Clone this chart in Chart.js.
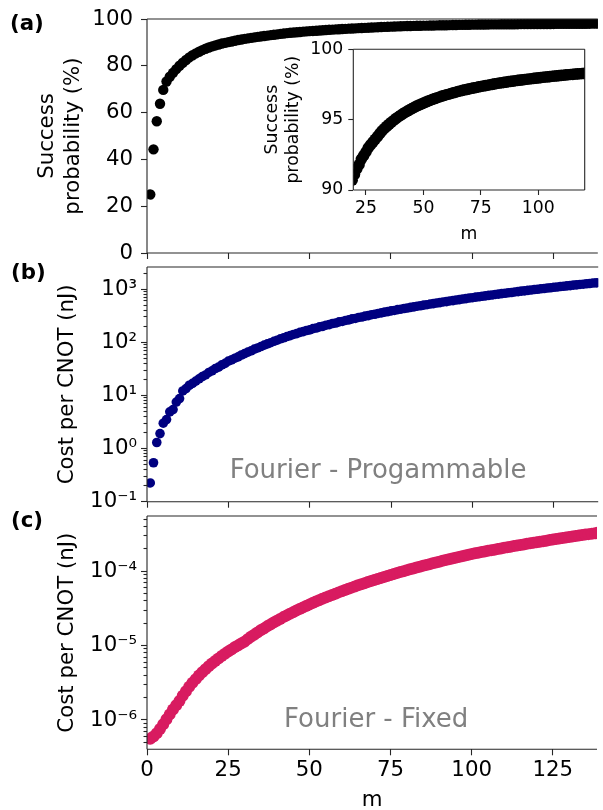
<!DOCTYPE html>
<html>
<head>
<meta charset="utf-8">
<script src="https://cdn.jsdelivr.net/npm/chart.js@4.4.0/dist/chart.umd.min.js"></script>
<style>
  html, body { margin: 0; padding: 0; background: #fff; overflow: hidden; }
  #wrap { position: relative; width: 603px; height: 810px; }
  canvas { position: absolute; left: 0; }
</style>
</head>
<body>
<div id="wrap">
  <canvas id="cA" width="603" height="262" style="top:0px"></canvas>
  <canvas id="cB" width="603" height="250" style="top:260px"></canvas>
  <canvas id="cC" width="603" height="305" style="top:505px"></canvas>
  <canvas id="cIn" width="345" height="210" style="left:250px;top:40px"></canvas>
</div>
<script>
const FONT = 'DejaVu Sans';
const INK = '#000';
const SPINE = '#262626';

// m = 1..140 (one point per m)
const mValues = Array.from({length: 140}, (_, i) => i + 1);
const mTicks = [0, 25, 50, 75, 100, 125];
const insetMTicks = [25, 50, 75, 100];
const successTicks = [0, 20, 40, 60, 80, 100];
const insetSuccessTicks = [90, 95, 100];
const progDecades = [0.1, 1, 10, 100, 1000];
const fixedDecades = [1e-6, 1e-5, 1e-4];

// (a) success probability (%)
const successProb = [
  25.0, 44.3, 56.3, 63.8, 69.7, 73.3, 75.3, 77.0, 78.6, 80.0,
  81.3, 82.5, 83.6, 84.5, 85.3, 86.0, 86.7, 87.3, 87.8, 88.3,
  88.7, 89.1, 89.5, 89.8, 90.1, 90.4, 90.7, 91.0, 91.25, 91.5,
  91.7, 91.95, 92.15, 92.35, 92.55, 92.75, 92.9, 93.1, 93.25, 93.45,
  93.65, 93.8, 93.95, 94.1, 94.2, 94.35, 94.45, 94.6, 94.7, 94.8,
  94.9, 95.0, 95.1, 95.2, 95.3, 95.4, 95.48, 95.56, 95.64, 95.72,
  95.8, 95.87, 95.94, 96.01, 96.08, 96.15, 96.22, 96.29, 96.36, 96.43,
  96.5, 96.56, 96.62, 96.68, 96.74, 96.8, 96.85, 96.9, 96.95, 97.0,
  97.03, 97.06, 97.09, 97.12, 97.15, 97.18, 97.21, 97.24, 97.27, 97.3,
  97.32, 97.35, 97.38, 97.41, 97.44, 97.47, 97.5, 97.53, 97.56, 97.58,
  97.6, 97.62, 97.64, 97.66, 97.68, 97.7, 97.71, 97.72, 97.73, 97.74,
  97.75, 97.76, 97.77, 97.78, 97.79, 97.8, 97.81, 97.82, 97.83, 97.84,
  97.85, 97.86, 97.87, 97.88, 97.89, 97.9, 97.91, 97.92, 97.93, 97.94,
  97.95, 97.96, 97.97, 97.98, 97.99, 98.0, 98.01, 98.02, 98.03, 98.04
];

// (a) inset: success probability (%)
const successProbInset = [
  25.0, 44.3, 56.3, 63.8, 69.7, 73.5, 77.0, 79.5, 81.6, 83.2,
  84.6, 85.7, 86.8, 87.6, 88.4, 89.1, 89.7, 90.2, 90.7, 91.1,
  91.5, 91.8, 92.2, 92.45, 92.7, 93.0, 93.2, 93.4, 93.6, 93.8,
  94.0, 94.2, 94.37, 94.52, 94.67, 94.81, 94.94, 95.07, 95.19, 95.3,
  95.41, 95.51, 95.61, 95.7, 95.79, 95.87, 95.96, 96.03, 96.11, 96.18,
  96.25, 96.32, 96.38, 96.44, 96.5, 96.56, 96.61, 96.67, 96.72, 96.77,
  96.81, 96.86, 96.91, 96.95, 97.0, 97.04, 97.08, 97.12, 97.15, 97.19,
  97.23, 97.26, 97.29, 97.33, 97.36, 97.39, 97.42, 97.45, 97.48, 97.51,
  97.54, 97.57, 97.6, 97.62, 97.65, 97.67, 97.7, 97.72, 97.74, 97.77,
  97.79, 97.81, 97.83, 97.85, 97.87, 97.89, 97.91, 97.93, 97.95, 97.97,
  97.99, 98.01, 98.03, 98.04, 98.06, 98.08, 98.1, 98.11, 98.13, 98.15,
  98.16, 98.18, 98.19, 98.21, 98.22, 98.24, 98.25, 98.26, 98.28, 98.29,
  98.3, 98.32, 98.33, 98.34, 98.36, 98.37, 98.38, 98.39, 98.4, 98.42,
  98.43, 98.44, 98.45, 98.46, 98.47, 98.48, 98.49, 98.5, 98.51, 98.52
];

// (b) cost per CNOT (nJ), programmable
const costProgrammable = [
  0.225, 0.54, 1.30, 1.91, 3.0, 3.5, 4.9, 5.4, 7.5, 8.7,
  12.1, 13.4, 15.5, 16.8, 18.6, 20.5, 22.5, 24.2, 27, 29,
  32, 34, 37.5, 40, 44, 46.5, 50, 53, 57.5, 61,
  65, 69, 74, 78, 83, 88, 93, 98, 104, 109,
  116, 121, 128, 133, 140, 145, 153, 158, 166, 171,
  180, 185, 194, 199, 209, 214, 225, 230, 241, 246,
  257, 263, 275, 280, 292, 298, 310, 316, 329, 336,
  348, 356, 368, 376, 389, 396, 410, 418, 431, 440,
  453, 462, 476, 485, 499, 508, 523, 532, 547, 556,
  572, 581, 597, 607, 623, 633, 650, 660, 677, 688,
  705, 715, 733, 744, 762, 772, 791, 802, 821, 832,
  851, 862, 882, 894, 914, 926, 946, 958, 979, 991,
  1012, 1024, 1046, 1058, 1080, 1092, 1115, 1127, 1150, 1162,
  1186, 1198, 1222, 1234, 1259, 1271, 1296, 1308, 1334, 1346
];

// (c) cost per CNOT (nJ), fixed
const costFixed = [
  5.6e-7, 6.0e-7, 6.65e-7, 7.55e-7, 8.75e-7, 1.02e-6, 1.19e-6, 1.38e-6, 1.58e-6, 1.80e-6,
  2.11e-6, 2.44e-6, 2.79e-6, 3.16e-6, 3.54e-6, 3.95e-6, 4.37e-6, 4.80e-6, 5.26e-6, 5.73e-6,
  6.21e-6, 6.72e-6, 7.23e-6, 7.77e-6, 8.32e-6, 8.88e-6, 9.46e-6, 1.005e-5, 1.065e-5, 1.127e-5,
  1.22e-5, 1.31e-5, 1.40e-5, 1.50e-5, 1.60e-5, 1.70e-5, 1.81e-5, 1.92e-5, 2.04e-5, 2.16e-5,
  2.28e-5, 2.41e-5, 2.54e-5, 2.68e-5, 2.81e-5, 2.96e-5, 3.10e-5, 3.25e-5, 3.41e-5, 3.57e-5,
  3.73e-5, 3.90e-5, 4.07e-5, 4.24e-5, 4.42e-5, 4.60e-5, 4.79e-5, 4.98e-5, 5.18e-5, 5.38e-5,
  5.58e-5, 5.79e-5, 6.00e-5, 6.22e-5, 6.44e-5, 6.66e-5, 6.89e-5, 7.13e-5, 7.36e-5, 7.61e-5,
  7.85e-5, 8.10e-5, 8.36e-5, 8.62e-5, 8.88e-5, 9.15e-5, 9.42e-5, 9.70e-5, 9.98e-5, 1.027e-4,
  1.056e-4, 1.086e-4, 1.116e-4, 1.146e-4, 1.177e-4, 1.208e-4, 1.240e-4, 1.273e-4, 1.305e-4, 1.339e-4,
  1.373e-4, 1.407e-4, 1.441e-4, 1.476e-4, 1.512e-4, 1.548e-4, 1.584e-4, 1.621e-4, 1.659e-4, 1.697e-4,
  1.731e-4, 1.766e-4, 1.800e-4, 1.835e-4, 1.871e-4, 1.907e-4, 1.943e-4, 1.979e-4, 2.016e-4, 2.053e-4,
  2.091e-4, 2.129e-4, 2.167e-4, 2.205e-4, 2.244e-4, 2.283e-4, 2.323e-4, 2.363e-4, 2.403e-4, 2.444e-4,
  2.485e-4, 2.526e-4, 2.567e-4, 2.609e-4, 2.652e-4, 2.694e-4, 2.737e-4, 2.780e-4, 2.824e-4, 2.868e-4,
  2.912e-4, 2.957e-4, 3.002e-4, 3.047e-4, 3.093e-4, 3.139e-4, 3.185e-4, 3.232e-4, 3.279e-4, 3.326e-4
];

const SUP = {'-': '\u207B', '0': '\u2070', '1': '\u00B9', '2': '\u00B2', '3': '\u00B3',
  '4': '\u2074', '5': '\u2075', '6': '\u2076', '7': '\u2077', '8': '\u2078', '9': '\u2079'};
function powLabel(v){
  const e = Math.round(Math.log10(v));
  return '10' + String(e).split('').map(c => SUP[c]).join('');
}

function minorTicks(decades, min, max){
  const out = [];
  for (const d of [decades[0] / 10, ...decades]) {
    for (let k = 2; k <= 9; k++) { const v = k * d; if (v >= min && v <= max) out.push(v); }
  }
  return out;
}

function pts(ys){ return ys.map((y, i) => ({x: mValues[i], y})); }

// spines (and optional white face for the inset)
function makeFrame(sides, fill){
  return {
    id: 'frame',
    beforeDatasetsDraw(chart){
      if (!fill) return;
      const {ctx, chartArea: a} = chart;
      ctx.save(); ctx.fillStyle = fill;
      ctx.fillRect(a.left, a.top, a.right - a.left, a.bottom - a.top);
      ctx.restore();
    },
    afterDatasetsDraw(chart){
      const {ctx, chartArea: a} = chart;
      ctx.save(); ctx.strokeStyle = SPINE; ctx.lineWidth = 1.1; ctx.beginPath();
      if (sides.includes('top')) { ctx.moveTo(a.left, a.top); ctx.lineTo(a.right, a.top); }
      if (sides.includes('bottom')) { ctx.moveTo(a.left, a.bottom); ctx.lineTo(a.right, a.bottom); }
      if (sides.includes('left')) { ctx.moveTo(a.left, a.top); ctx.lineTo(a.left, a.bottom); }
      if (sides.includes('right')) { ctx.moveTo(a.right, a.top); ctx.lineTo(a.right, a.bottom); }
      ctx.stroke(); ctx.restore();
    }
  };
}

// free texts: panel letters (pixel) and annotations (data coords)
function makeNotes(items){
  return {
    id: 'notes',
    afterDraw(chart){
      const ctx = chart.ctx;
      items.forEach(t => {
        ctx.save();
        ctx.font = (t.bold ? 'bold ' : '') + t.size + 'px "' + FONT + '"';
        ctx.fillStyle = t.color || INK;
        ctx.textAlign = t.align || 'left';
        ctx.textBaseline = 'alphabetic';
        const x = t.px !== undefined ? t.px : chart.scales.x.getPixelForValue(t.x);
        const y = t.py !== undefined ? t.py : chart.scales.y.getPixelForValue(t.y);
        ctx.fillText(t.text, x, y);
        ctx.restore();
      });
    }
  };
}

function tickAxis(o){
  return {
    type: o.type || 'linear',
    position: o.position,
    min: o.min, max: o.max,
    weight: o.weight || 0,
    afterBuildTicks: s => { s.ticks = o.ticks.map(v => ({value: v})); },
    afterFit: s => {
      if (o.position === 'left') s.width = o.size; else s.height = o.size;
      s.paddingTop = 0; s.paddingBottom = 0; s.paddingLeft = 0; s.paddingRight = 0;
    },
    grid: {display: true, drawOnChartArea: false, drawTicks: true, tickLength: o.tickLength,
           tickColor: SPINE, tickWidth: 1.1, color: SPINE},
    border: {display: false},
    ticks: {display: !!o.label, autoSkip: false, maxRotation: 0, minRotation: 0, padding: o.pad || 0,
            color: INK, font: {family: FONT, size: o.fontSize || 21.3}, callback: o.label || (v => String(v))},
    title: o.title || {display: false}
  };
}

function makeChart(id, cfg){
  return new Chart(document.getElementById(id), {
    type: 'scatter',
    data: {datasets: [{data: cfg.points, backgroundColor: cfg.color, borderWidth: 0,
      pointRadius: cfg.r, pointHoverRadius: cfg.r, pointBorderWidth: 0, clip: 0}]},
    options: {
      responsive: false, animation: false, devicePixelRatio: 1, events: [],
      layout: {padding: cfg.padding},
      plugins: {legend: {display: false}, tooltip: {enabled: false}},
      scales: cfg.scales
    },
    plugins: [makeFrame(cfg.sides, cfg.fill), makeNotes(cfg.notes || [])]
  });
}

const yTitleFont = {family: FONT, size: 21.3, lineHeight: 1.25};
const X_MAX = 138.6;

// (a)
makeChart('cA', {
  points: pts(successProb), color: '#000', r: 5.2,
  padding: {top: 19, left: 0, right: 0, bottom: 0},
  sides: ['top', 'left', 'bottom'],
  notes: [{text: '(a)', bold: true, size: 21.3, px: 10, py: 30}],
  scales: {
    x: tickAxis({position: 'bottom', min: 0, max: X_MAX, ticks: mTicks, size: 9, tickLength: 6}),
    y: tickAxis({position: 'left', min: 0, max: 100, ticks: successTicks, size: 147, tickLength: 6, pad: 8,
      label: v => String(v),
      title: {display: true, text: ['Success', 'probability (%)'], color: INK, font: yTitleFont, padding: {top: 34}}})
  }
});

// (b)
makeChart('cB', {
  points: pts(costProgrammable), color: '#000080', r: 4.8,
  padding: {top: 7, left: 0, right: 0, bottom: 0},
  sides: ['top', 'left', 'bottom'],
  notes: [
    {text: '(b)', bold: true, size: 21.3, px: 11, py: 19},
    {text: 'Fourier - Progammable', size: 26, color: '#808080', align: 'center', x: 71, y: 0.277}
  ],
  scales: {
    x: tickAxis({position: 'bottom', min: 0, max: X_MAX, ticks: mTicks, size: 8.3, tickLength: 6}),
    y: tickAxis({type: 'logarithmic', position: 'left', weight: 1, min: 0.1, max: 2600, ticks: progDecades,
      size: 147, tickLength: 6, pad: 4, label: powLabel,
      title: {display: true, text: 'Cost per CNOT (nJ)', color: INK, font: yTitleFont, padding: {top: 54.4}}}),
    yMinor: tickAxis({type: 'logarithmic', position: 'left', weight: 0, min: 0.1, max: 2600,
      ticks: minorTicks(progDecades, 0.1, 2600), size: 0, tickLength: 3.5})
  }
});

// (c)
makeChart('cC', {
  points: pts(costFixed), color: '#d81b60', r: 6,
  padding: {top: 11, left: 0, right: 0, bottom: 0},
  sides: ['top', 'left', 'bottom'],
  notes: [
    {text: '(c)', bold: true, size: 21.3, px: 11, py: 22},
    {text: 'Fourier - Fixed', size: 26, color: '#808080', align: 'center', x: 70.6, y: 8.05e-7}
  ],
  scales: {
    x: tickAxis({position: 'bottom', min: 0, max: X_MAX, ticks: mTicks, size: 60.7, tickLength: 6, pad: 2.7,
      label: v => String(v),
      title: {display: true, text: 'm', color: INK, font: {family: FONT, size: 21.3, lineHeight: 0.85}, padding: 0}}),
    y: tickAxis({type: 'logarithmic', position: 'left', weight: 1, min: 4.04e-7, max: 5.5e-4, ticks: fixedDecades,
      size: 147, tickLength: 6, pad: 4, label: powLabel,
      title: {display: true, text: 'Cost per CNOT (nJ)', color: INK, font: yTitleFont, padding: {top: 54.4}}}),
    yMinor: tickAxis({type: 'logarithmic', position: 'left', weight: 0, min: 4.04e-7, max: 5.5e-4,
      ticks: minorTicks(fixedDecades, 4.04e-7, 5.5e-4), size: 0, tickLength: 3.5})
  }
});

// inset of (a)
makeChart('cIn', {
  points: pts(successProbInset), color: '#000', r: 5.8,
  padding: {top: 9.3, left: 0, right: 10.3, bottom: 0},
  sides: ['top', 'left', 'bottom', 'right'], fill: '#fff',
  scales: {
    x: tickAxis({position: 'bottom', min: 19.5, max: 120.2, ticks: insetMTicks, size: 60, tickLength: 5, pad: 3.2,
      fontSize: 17.3, label: v => String(v),
      title: {display: true, text: 'm', color: INK, font: {family: FONT, size: 17.3, lineHeight: 1.2}, padding: {bottom: 5.6}}}),
    y: tickAxis({position: 'left', min: 90, max: 100, ticks: insetSuccessTicks, size: 103.3, tickLength: 5, pad: 5,
      fontSize: 17.3, label: v => String(v),
      title: {display: true, text: ['Success', 'probability (%)'], color: INK,
        font: {family: FONT, size: 17.3, lineHeight: 1.2}, padding: {top: 12}}})
  }
});
</script>
</body>
</html>
